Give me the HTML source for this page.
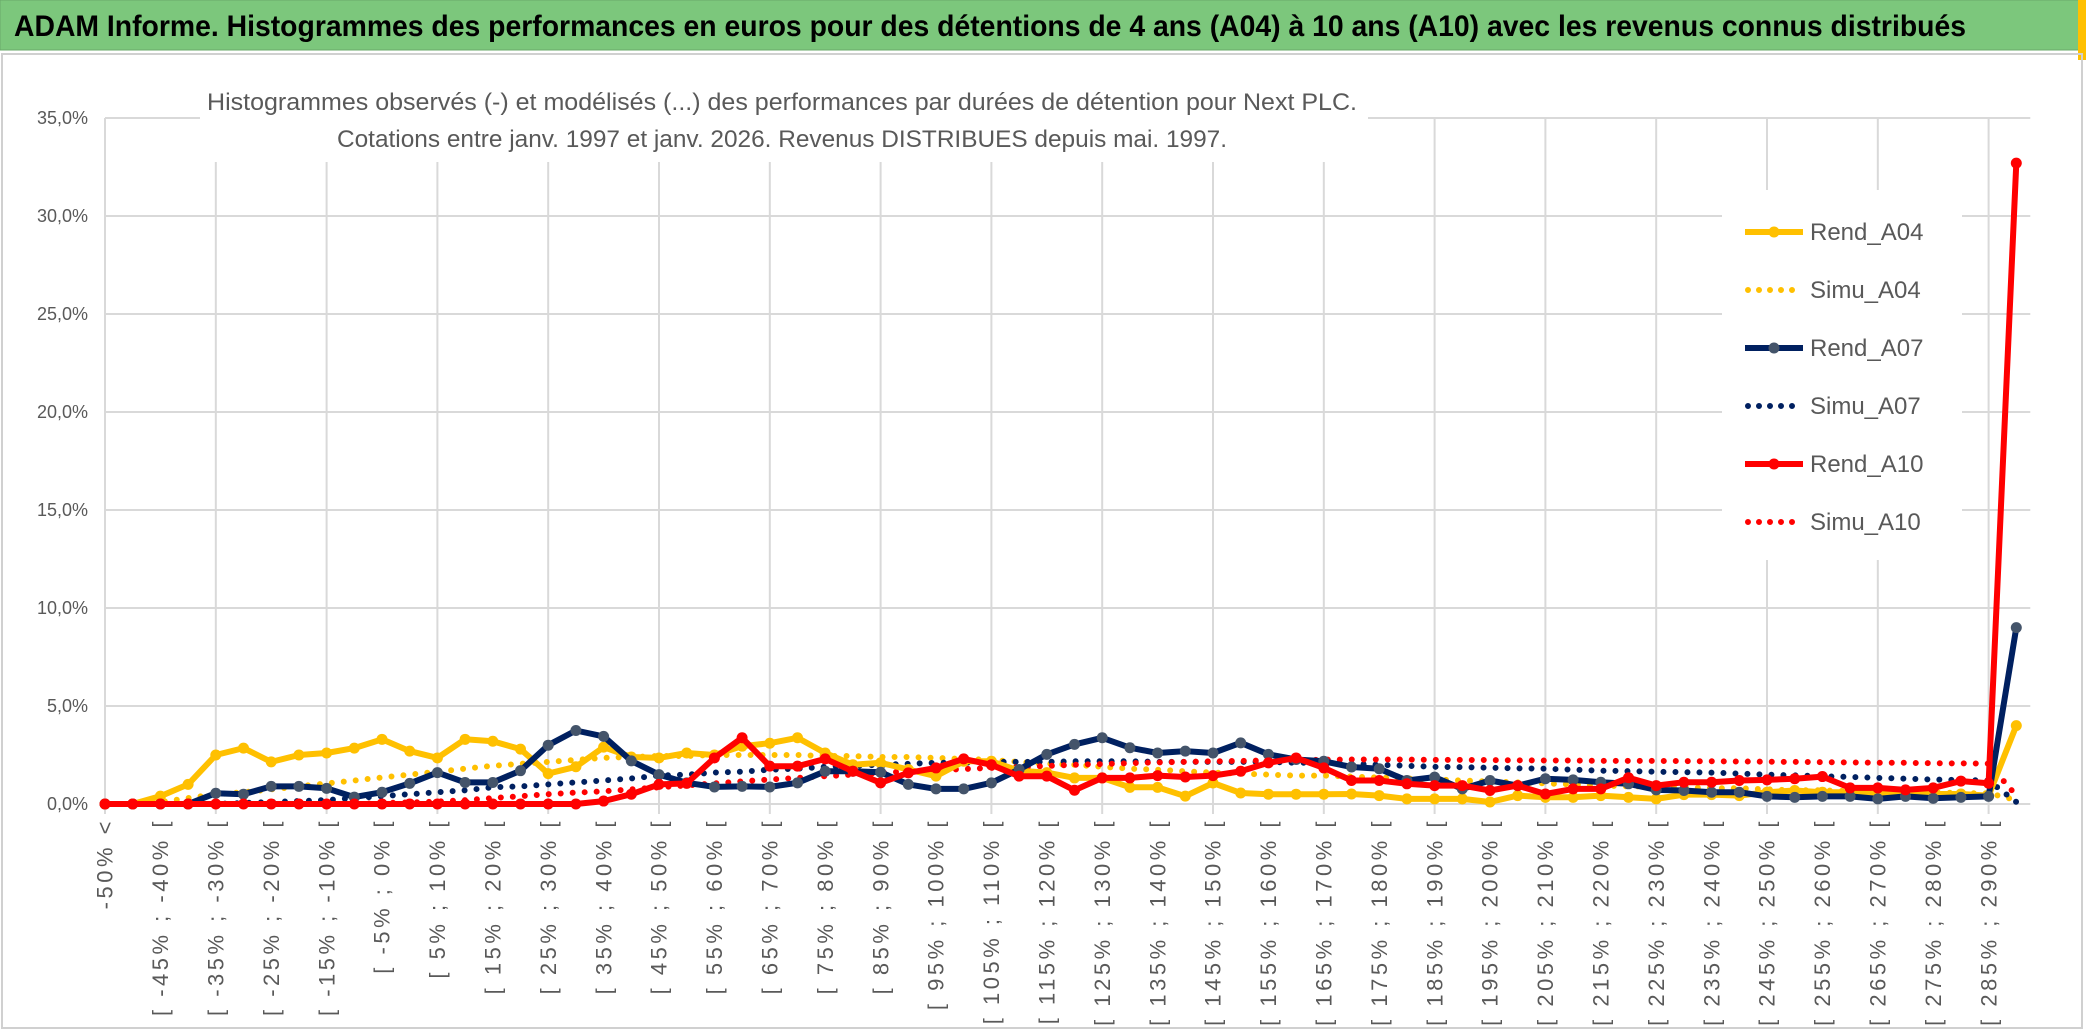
<!DOCTYPE html>
<html><head><meta charset="utf-8"><title>ADAM Informe</title>
<style>
html,body{margin:0;padding:0;background:#fff;}
svg{display:block;font-family:"Liberation Sans Narrow","Liberation Sans",sans-serif;}
</style></head>
<body>
<svg id="chart" width="2086" height="1031" viewBox="0 0 2086 1031" xmlns="http://www.w3.org/2000/svg">
  <rect x="0" y="0" width="2086" height="1031" fill="#ffffff"/>
  <rect x="0" y="0" width="2086" height="50" fill="#7cc77c" stroke="#6aa86a" stroke-width="1"/>
  <rect x="2078" y="0" width="8" height="60" fill="#ffc000"/>
  <text x="14" y="36" font-size="30" font-weight="bold" fill="#000" textLength="1952" lengthAdjust="spacingAndGlyphs">ADAM Informe. Histogrammes des performances en euros pour des détentions de 4 ans (A04) à 10 ans (A10) avec les revenus connus distribués</text>
  <rect x="2" y="54" width="2080" height="974" fill="none" stroke="#d0d0d0" stroke-width="2"/>
  <g id="grid"></g>
  <g id="yaxis"></g>
  <g id="xaxis"></g>
  <rect x="200" y="82" width="1168" height="80" fill="#ffffff"/>
  <text x="782" y="110" font-size="24" fill="#595959" text-anchor="middle" textLength="1150" lengthAdjust="spacingAndGlyphs">Histogrammes observés (-) et modélisés (...) des performances par durées de détention pour Next PLC.</text>
  <text x="782" y="147" font-size="24" fill="#595959" text-anchor="middle" textLength="890" lengthAdjust="spacingAndGlyphs">Cotations entre janv. 1997 et janv. 2026. Revenus DISTRIBUES depuis mai. 1997.</text>
  <g id="series"></g>
  <g id="legend"></g>
</svg>
<script>
const categories = (function(){ const c=["-50% <"]; for(let k=1;k<70;k++){ const lo=-55+5*k, hi=-50+5*k; c.push("[ "+lo+"% ; "+hi+"% ["); } return c; })();
const yTicks = [0,5,10,15,20,25,30,35];
const yTickLabels = ["0,0%","5,0%","10,0%","15,0%","20,0%","25,0%","30,0%","35,0%"];
const seriesNames = ["Rend_A04","Simu_A04","Rend_A07","Simu_A07","Rend_A10","Simu_A10"];
const rendA04 = [0,0,0.4,1.0,2.5,2.85,2.15,2.5,2.6,2.85,
 3.3,2.7,2.35,3.3,3.2,2.8,1.55,1.9,2.9,2.4,
 2.35,2.6,2.5,2.95,3.1,3.38,2.6,2.0,2.1,1.76,
 1.42,2.18,2.18,1.7,1.6,1.33,1.33,0.85,0.85,0.4,
 1.07,0.56,0.5,0.5,0.5,0.51,0.43,0.26,0.26,0.26,
 0.1,0.43,0.34,0.34,0.43,0.34,0.26,0.48,0.48,0.43,
 0.6,0.69,0.6,0.6,0.51,0.65,0.51,0.51,0.43,4.0];
const simuA04 = [0,0,0.1,0.3,0.5,0.6,0.75,0.9,1.05,1.2,
 1.35,1.5,1.65,1.8,1.95,2.05,2.15,2.25,2.35,2.4,
 2.45,2.45,2.5,2.5,2.5,2.5,2.45,2.45,2.4,2.4,
 2.35,2.3,2.25,2.15,2.05,2.0,1.9,1.8,1.75,1.67,
 1.6,1.55,1.5,1.45,1.45,1.4,1.35,1.3,1.25,1.2,
 1.15,1.1,1.05,1.0,0.95,0.9,0.9,0.85,0.8,0.8,
 0.75,0.7,0.7,0.65,0.65,0.6,0.6,0.55,0.55,0.2];
const rendA07 = [0,0,0,0,0.55,0.5,0.9,0.9,0.8,0.35,
 0.6,1.05,1.6,1.1,1.1,1.7,3.0,3.75,3.45,2.2,
 1.5,1.08,0.87,0.9,0.87,1.08,1.67,1.67,1.62,1.0,
 0.77,0.77,1.08,1.76,2.53,3.04,3.38,2.87,2.6,2.7,
 2.6,3.12,2.53,2.27,2.18,1.89,1.8,1.2,1.37,0.77,
 1.2,0.94,1.29,1.23,1.11,1.03,0.72,0.69,0.6,0.6,
 0.39,0.34,0.39,0.39,0.26,0.39,0.29,0.34,0.39,9.0];
const simuA07 = [0,0,0,0,0,0.05,0.1,0.15,0.2,0.3,
 0.4,0.5,0.6,0.7,0.85,0.9,1.0,1.1,1.2,1.3,
 1.45,1.5,1.6,1.65,1.75,1.8,1.9,1.95,2.0,2.05,
 2.1,2.1,2.15,2.15,2.15,2.18,2.18,2.18,2.15,2.15,
 2.15,2.15,2.15,2.1,2.1,2.05,2.0,1.95,1.9,1.88,
 1.85,1.82,1.8,1.75,1.7,1.68,1.65,1.62,1.6,1.55,
 1.5,1.46,1.42,1.38,1.33,1.29,1.25,1.22,1.2,0.1];
const rendA10 = [0,0,0,0,0,0,0,0,0,0,
 0,0,0,0,0,0,0,0,0.15,0.5,
 1.0,1.05,2.35,3.38,1.93,1.93,2.3,1.67,1.08,1.59,
 1.84,2.3,2.0,1.42,1.42,0.7,1.33,1.33,1.45,1.38,
 1.45,1.67,2.1,2.35,1.84,1.2,1.2,1.03,0.94,0.94,
 0.69,0.94,0.51,0.77,0.77,1.34,0.94,1.11,1.11,1.2,
 1.23,1.29,1.4,0.82,0.82,0.72,0.82,1.17,1.06,32.7];
const simuA10 = [0,0,0,0,0,0,0,0,0,0,
 0.05,0.08,0.12,0.2,0.3,0.4,0.5,0.58,0.65,0.75,
 0.85,0.95,1.05,1.16,1.25,1.33,1.42,1.5,1.58,1.67,
 1.72,1.78,1.84,1.88,1.94,2.0,2.04,2.08,2.12,2.15,
 2.18,2.2,2.22,2.24,2.26,2.27,2.27,2.27,2.25,2.25,
 2.24,2.23,2.22,2.22,2.2,2.2,2.2,2.19,2.18,2.17,
 2.16,2.15,2.14,2.12,2.1,2.1,2.08,2.07,2.06,0.43];

const NS="http://www.w3.org/2000/svg";
const X0=105, XSTEP=27.7, Y0=804, YPER=19.6;
function xs(i){ return X0+XSTEP*i; }
function ys(v){ return Y0-YPER*v; }
function mk(tag, attrs, parent){ const e=document.createElementNS(NS,tag); for(const k in attrs) e.setAttribute(k,attrs[k]); parent.appendChild(e); return e; }

const grid=document.getElementById('grid');
yTicks.forEach(function(v){
  const l=mk('line',{x1:xs(0),x2:xs(categories.length-1)+14,y1:ys(v),y2:ys(v),stroke:'#d9d9d9','stroke-width':2},grid);
  
  
});
for(let i=0;i<categories.length;i+=4){
  const l=mk('line',{x1:xs(i),x2:xs(i),y1:ys(35),y2:Y0+10,stroke:'#d9d9d9','stroke-width':2},grid);
  
  
}
const yaxis=document.getElementById('yaxis');
yTicks.forEach(function(v,k){
  const t=mk('text',{x:88,y:ys(v)+6,'font-size':18,fill:'#595959','text-anchor':'end'},yaxis);
  t.textContent=yTickLabels[k];
  
  
});
const xaxis=document.getElementById('xaxis');
for(let i=0;i<categories.length;i+=2){
  const x=xs(i), y=818;
  const t=mk('text',{x:x,y:y,'font-size':22,'letter-spacing':3.5,fill:'#595959','text-anchor':'end',transform:'rotate(-90 '+x+' '+y+')',dy:'0.35em'},xaxis);
  t.textContent=categories[i];
  
  
}

const seriesDefs=[
  {name:'simu-a04',data:simuA04,color:'#ffc000',dotted:true},
  {name:'simu-a07',data:simuA07,color:'#002060',dotted:true},
  {name:'simu-a10',data:simuA10,color:'#ff0000',dotted:true},
  {name:'rend-a04',data:rendA04,color:'#ffc000',marker:'#ffc000'},
  {name:'rend-a07',data:rendA07,color:'#002060',marker:'#44546a'},
  {name:'rend-a10',data:rendA10,color:'#ff0000',marker:'#ff0000'}
];
const sg=document.getElementById('series');
seriesDefs.forEach(function(s){
  const g=mk('g',{},sg);
  
  
  const pts=s.data.map(function(v,i){return xs(i).toFixed(1)+','+ys(v).toFixed(1);}).join(' ');
  if(s.dotted){
    const p=mk('polyline',{points:pts,fill:'none',stroke:s.color,'stroke-width':6,'stroke-linecap':'round','stroke-dasharray':'0 12'},g);
    
    
  } else {
    const p=mk('polyline',{points:pts,fill:'none',stroke:s.color,'stroke-width':6,'stroke-linejoin':'round'},g);
    
    
    s.data.forEach(function(v,i){
      const c=mk('circle',{cx:xs(i),cy:ys(v),r:5.5,fill:s.marker},g);
      
      
    });
  }
});

const legend=document.getElementById('legend');
const lbg=mk('rect',{x:1722,y:190,width:240,height:370,fill:'#ffffff'},legend);


const legendItems=[
  {label:'Rend_A04',color:'#ffc000',marker:'#ffc000'},
  {label:'Simu_A04',color:'#ffc000',dotted:true},
  {label:'Rend_A07',color:'#002060',marker:'#44546a'},
  {label:'Simu_A07',color:'#002060',dotted:true},
  {label:'Rend_A10',color:'#ff0000',marker:'#ff0000'},
  {label:'Simu_A10',color:'#ff0000',dotted:true}
];
legendItems.forEach(function(it,k){
  const y=232+58*k;
  const g=mk('g',{},legend);
  
  
  if(it.dotted){
    mk('line',{x1:1748,x2:1800,y1:y,y2:y,stroke:it.color,'stroke-width':6,'stroke-linecap':'round','stroke-dasharray':'0 11'},g);
  } else {
    mk('line',{x1:1745,x2:1803,y1:y,y2:y,stroke:it.color,'stroke-width':6},g);
    mk('circle',{cx:1774,cy:y,r:5.5,fill:it.marker},g);
  }
  const t=mk('text',{x:1810,y:y+8,'font-size':24,fill:'#595959'},g);
  t.textContent=it.label;
});
</script>
</body></html>
